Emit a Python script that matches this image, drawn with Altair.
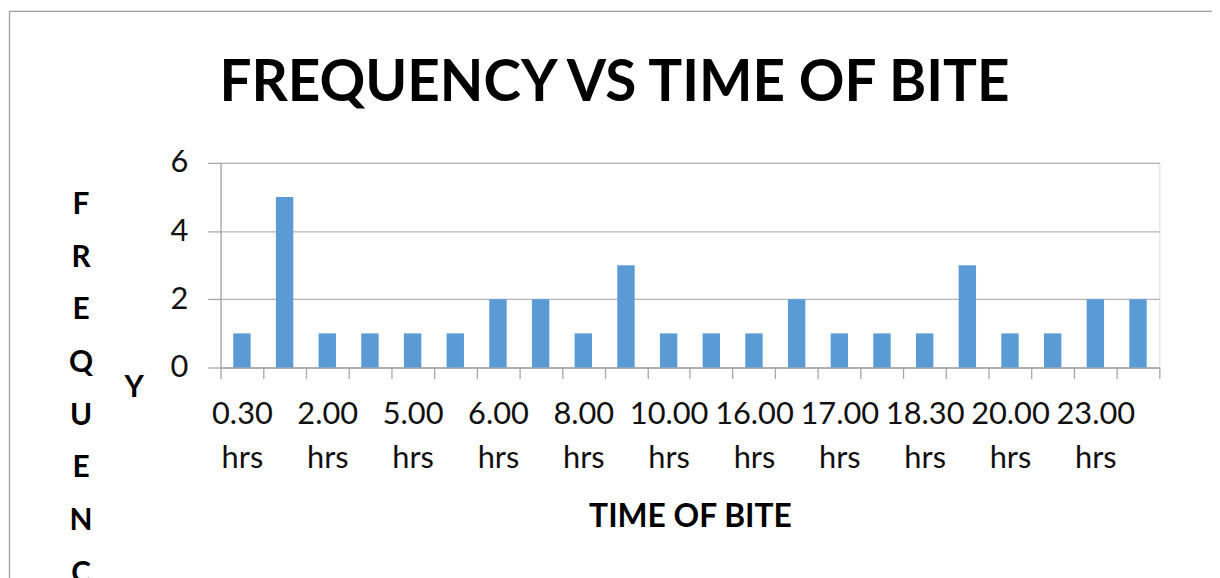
import json
import altair as alt
import pandas as pd

# ---- data ----
tick_labels = ["0.30 hrs", "2.00 hrs", "5.00 hrs", "6.00 hrs", "8.00 hrs", "10.00 hrs",
               "16.00 hrs", "17.00 hrs", "18.30 hrs", "20.00 hrs", "23.00 hrs"]
frequency = [1, 5, 1, 1, 1, 1, 2, 2, 1, 3, 1, 1, 1, 2, 1, 1, 1, 3, 1, 1, 2, 2]
y_ticks = [0, 2, 4, 6]
y_title_letters = ["F", "R", "E", "Q", "U", "E", "N", "C"]
y_title_tail = ["Y"]

bars_df = pd.DataFrame({"slot": list(range(len(frequency))), "freq": frequency})
label_array = json.dumps(tick_labels).replace('"', "'")
label_expr = f"datum.value % 2 == 0 ? split({label_array}[datum.value / 2], ' ') : ''"

FONT = "Lato"
AX = "#a6a6a6"
TXT = "#111111"

bars = alt.Chart(bars_df).mark_bar(size=17.5, color="#5B9BD5").encode(
    x=alt.X(
        "slot:O",
        scale=alt.Scale(type="band", paddingInner=0, paddingOuter=0),
        axis=alt.Axis(
            title="TIME OF BITE",
            tickBand="extent",
            labelExpr=label_expr,
            labelAngle=0,
            labelFont=FONT,
            labelFontSize=31,
            labelLineHeight=45,
            labelPadding=21,
            labelColor=TXT,
            labelOverlap=False,
            labelBound=False,
            labelFlush=False,
            tickSize=11,
            tickColor=AX,
            domainColor=AX,
            tickWidth=1.3,
            domainWidth=1.3,
            titleFont=FONT,
            titleFontSize=32,
            titleFontWeight="bold",
            titleColor="black",
            titleBaseline="alphabetic",
            titleY=160,
        ),
    ),
    y=alt.Y(
        "freq:Q",
        scale=alt.Scale(domain=[0, 6], nice=False),
        axis=alt.Axis(
            values=y_ticks,
            title=y_title_letters,
            titleAngle=0,
            titleAlign="center",
            titleBaseline="alphabetic",
            titleX=-141,
            titleY=51,
            titleLineHeight=53,
            titleFont=FONT,
            titleFontSize=30,
            titleFontWeight="bold",
            titleColor="black",
            labelFont=FONT,
            labelFontSize=31,
            labelColor=TXT,
            labelPadding=20,
            tickSize=13,
            tickColor=AX,
            tickWidth=1.3,
            domainColor=AX,
            domainWidth=1.3,
            gridColor="#b3b3b3",
            gridWidth=1.2,
        ),
    ),
)

tail = alt.Chart(pd.DataFrame({"letter": y_title_tail})).mark_text(
    font=FONT, fontSize=30, fontWeight="bold", align="center", baseline="alphabetic", color="black"
).encode(text="letter:N", x=alt.value(-87), y=alt.value(236))

border = alt.Chart(pd.DataFrame({"k": [0]})).mark_rect(
    fillOpacity=0, stroke="#a0a0a0", strokeWidth=1.3
).encode(x=alt.value(-212.5), x2=alt.value(3000), y=alt.value(-152.5), y2=alt.value(3000))

chart = alt.layer(border, bars, tail).properties(
    width=945,
    height=206,
    padding={"left": 214, "top": 154, "right": 53, "bottom": 210},
    autosize=alt.AutoSizeParams(type="none"),
    title=alt.TitleParams(
        "FREQUENCY VS TIME OF BITE",
        font=FONT, fontSize=57, fontWeight="bold", color="black",
        anchor="middle", frame="group", dx=-76, offset=50, dy=198, baseline="alphabetic",
    ),
).configure_view(stroke=None).configure(background="white")

chart.save("out.html", embed_options={"renderer": "svg", "actions": False})
